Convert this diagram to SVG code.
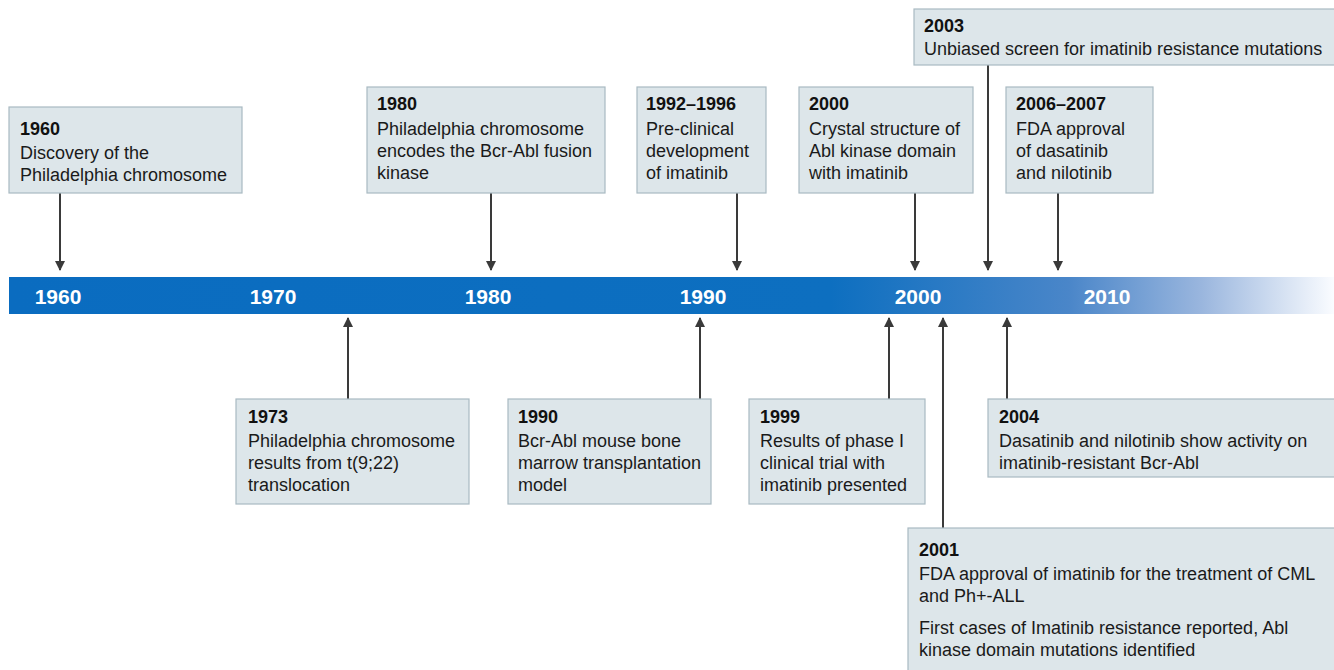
<svg xmlns="http://www.w3.org/2000/svg" width="1334" height="670" viewBox="0 0 1334 670">
<style>
.box{fill:#dde6ea;stroke:#a9bac2;stroke-width:1.2}
.yr{font-family:"Liberation Sans",Arial,sans-serif;font-size:18px;font-weight:bold;fill:#111}
.tx{font-family:"Liberation Sans",Arial,sans-serif;font-size:18px;fill:#1a1a1a}
.bl{font-family:"Liberation Sans",Arial,sans-serif;font-size:21px;font-weight:bold;fill:#fff}
.ar{stroke:#3a3a3a;stroke-width:2;fill:none;marker-end:url(#ah)}
</style>
<defs>
<linearGradient id="bar" x1="0" y1="0" x2="1" y2="0">
<stop offset="0" stop-color="#0a6cc0"/>
<stop offset="0.62" stop-color="#0d6fc0"/>
<stop offset="0.8" stop-color="#4a86c9"/>
<stop offset="0.9" stop-color="#9ab6de"/>
<stop offset="1" stop-color="#fafcff"/>
</linearGradient>
<marker id="ah" viewBox="0 0 10 10" refX="9" refY="5" markerWidth="5" markerHeight="5" orient="auto" markerUnits="strokeWidth">
<path d="M0,0 L10,5 L0,10 z" fill="#3a3a3a"/>
</marker>
</defs>
<rect width="1334" height="670" fill="#fff"/>
<g id="timeline">
<rect x="9" y="277" width="1325" height="37" fill="url(#bar)"/>
<text class="bl" x="58" y="304" text-anchor="middle">1960</text>
<text class="bl" x="273" y="304" text-anchor="middle">1970</text>
<text class="bl" x="488" y="304" text-anchor="middle">1980</text>
<text class="bl" x="703" y="304" text-anchor="middle">1990</text>
<text class="bl" x="918" y="304" text-anchor="middle">2000</text>
<text class="bl" x="1107" y="304" text-anchor="middle">2010</text>
</g>
<g id="connectors">
<line class="ar" x1="60" y1="193" x2="60" y2="270"/>
<line class="ar" x1="491" y1="193" x2="491" y2="270"/>
<line class="ar" x1="737" y1="193" x2="737" y2="270"/>
<line class="ar" x1="915" y1="193" x2="915" y2="270"/>
<line class="ar" x1="988" y1="65" x2="988" y2="270"/>
<line class="ar" x1="1058" y1="193" x2="1058" y2="270"/>
<line class="ar" x1="348" y1="399" x2="348" y2="318"/>
<line class="ar" x1="700" y1="399" x2="700" y2="318"/>
<line class="ar" x1="889" y1="399" x2="889" y2="318"/>
<line class="ar" x1="943" y1="528" x2="943" y2="318"/>
<line class="ar" x1="1007" y1="399" x2="1007" y2="318"/>
</g>
<g id="n1960">
<rect class="box" x="9" y="107" width="233" height="86"/>
<text class="yr" x="20" y="135">1960</text>
<text class="tx" x="20" y="159">Discovery of the</text>
<text class="tx" x="20" y="181">Philadelphia chromosome</text>
</g>
<g id="n1980">
<rect class="box" x="367" y="87" width="238" height="106"/>
<text class="yr" x="377" y="110">1980</text>
<text class="tx" x="377" y="135">Philadelphia chromosome</text>
<text class="tx" x="377" y="157">encodes the Bcr-Abl fusion</text>
<text class="tx" x="377" y="179">kinase</text>
</g>
<g id="n1992">
<rect class="box" x="637" y="87" width="129" height="106"/>
<text class="yr" x="646" y="110">1992–1996</text>
<text class="tx" x="646" y="135">Pre-clinical</text>
<text class="tx" x="646" y="157">development</text>
<text class="tx" x="646" y="179">of imatinib</text>
</g>
<g id="n2000">
<rect class="box" x="799" y="87" width="174" height="106"/>
<text class="yr" x="809" y="110">2000</text>
<text class="tx" x="809" y="135">Crystal structure of</text>
<text class="tx" x="809" y="157">Abl kinase domain</text>
<text class="tx" x="809" y="179">with imatinib</text>
</g>
<g id="n2003">
<rect class="box" x="914" y="9" width="425" height="56"/>
<text class="yr" x="924" y="32">2003</text>
<text class="tx" x="924" y="55">Unbiased screen for imatinib resistance mutations</text>
</g>
<g id="n2006">
<rect class="box" x="1006" y="87" width="147" height="106"/>
<text class="yr" x="1016" y="110">2006–2007</text>
<text class="tx" x="1016" y="135">FDA approval</text>
<text class="tx" x="1016" y="157">of dasatinib</text>
<text class="tx" x="1016" y="179">and nilotinib</text>
</g>
<g id="n1973">
<rect class="box" x="236" y="399" width="233" height="105"/>
<text class="yr" x="248" y="423">1973</text>
<text class="tx" x="248" y="447">Philadelphia chromosome</text>
<text class="tx" x="248" y="469">results from t(9;22)</text>
<text class="tx" x="248" y="491">translocation</text>
</g>
<g id="n1990">
<rect class="box" x="508" y="399" width="203" height="105"/>
<text class="yr" x="518" y="423">1990</text>
<text class="tx" x="518" y="447">Bcr-Abl mouse bone</text>
<text class="tx" x="518" y="469">marrow transplantation</text>
<text class="tx" x="518" y="491">model</text>
</g>
<g id="n1999">
<rect class="box" x="749" y="399" width="176" height="105"/>
<text class="yr" x="760" y="423">1999</text>
<text class="tx" x="760" y="447">Results of phase I</text>
<text class="tx" x="760" y="469">clinical trial with</text>
<text class="tx" x="760" y="491">imatinib presented</text>
</g>
<g id="n2004">
<rect class="box" x="988" y="399" width="351" height="78"/>
<text class="yr" x="999" y="423">2004</text>
<text class="tx" x="999" y="447">Dasatinib and nilotinib show activity on</text>
<text class="tx" x="999" y="469">imatinib-resistant Bcr-Abl</text>
</g>
<g id="n2001">
<rect class="box" x="908" y="528" width="431" height="150"/>
<text class="yr" x="919" y="556">2001</text>
<text class="tx" x="919" y="580">FDA approval of imatinib for the treatment of CML</text>
<text class="tx" x="919" y="602">and Ph+-ALL</text>
<text class="tx" x="919" y="634">First cases of Imatinib resistance reported, Abl</text>
<text class="tx" x="919" y="656">kinase domain mutations identified</text>
</g>
</svg>
